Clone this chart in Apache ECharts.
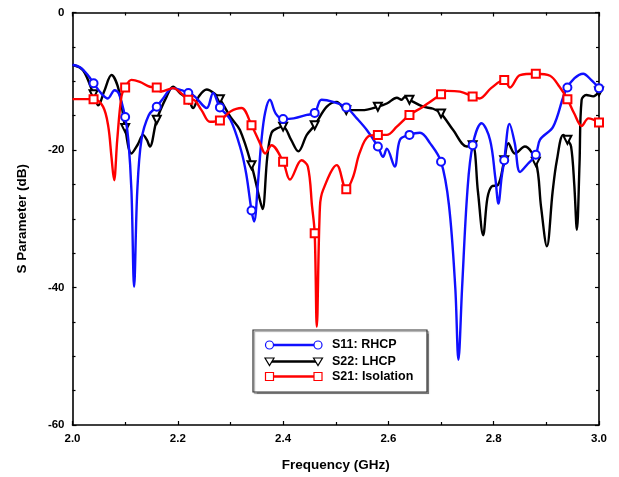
<!DOCTYPE html>
<html>
<head>
<meta charset="utf-8">
<script src="https://cdn.jsdelivr.net/npm/echarts@6/dist/echarts.min.js"></script>
<style>html,body{margin:0;padding:0;background:#fff}#c{width:619px;height:477px}</style>
</head>
<body>
<div id="c"></div>
<script>
// ---- data ----
const markerFreq = [2.04,2.10,2.16,2.22,2.28,2.34,2.40,2.46,2.52,2.58,2.64,2.70,2.76,2.82,2.88,2.94,3.00];

const s11Freq = [2.000,2.015,2.030,2.040,2.055,2.067,2.080,2.088,2.100,2.106,2.112,2.117,2.123,2.131,2.145,2.160,2.172,2.190,2.207,2.220,2.232,2.255,2.267,2.280,2.300,2.320,2.330,2.340,2.345,2.352,2.359,2.366,2.375,2.386,2.400,2.420,2.445,2.460,2.473,2.495,2.520,2.540,2.559,2.580,2.590,2.597,2.612,2.622,2.640,2.660,2.679,2.700,2.715,2.727,2.733,2.740,2.750,2.760,2.777,2.793,2.803,2.809,2.815,2.820,2.830,2.840,2.850,2.865,2.880,2.888,2.913,2.940,2.970,2.985,3.000];
const s11dB   = [-7.6,-8.0,-9.2,-10.3,-11.8,-12.5,-11.3,-11.8,-15.2,-18.5,-26,-39.9,-26,-18.5,-14.9,-13.7,-12.5,-11.0,-11.3,-11.7,-12.2,-13.9,-11.7,-13.8,-15.6,-20,-23.5,-28.8,-30.4,-25,-18.5,-14.5,-12.7,-14.7,-15.5,-15.4,-14.9,-14.6,-12.7,-13.0,-13.8,-15.4,-17.1,-19.5,-21.0,-19.8,-22.4,-18.5,-17.8,-17.5,-19.0,-21.7,-28,-40,-50.5,-40,-26,-19.3,-16.1,-18.5,-24,-27.8,-24,-21.5,-16.2,-19,-23.2,-22,-20.7,-18.5,-16.6,-10.9,-8.9,-9.8,-11.0];

const s22Freq = [2.000,2.020,2.040,2.049,2.060,2.074,2.088,2.100,2.112,2.124,2.134,2.141,2.147,2.160,2.179,2.191,2.205,2.220,2.229,2.240,2.255,2.270,2.280,2.300,2.318,2.340,2.356,2.361,2.370,2.378,2.390,2.400,2.415,2.429,2.445,2.460,2.483,2.502,2.520,2.550,2.580,2.598,2.616,2.625,2.631,2.640,2.666,2.685,2.700,2.723,2.749,2.760,2.770,2.780,2.788,2.796,2.808,2.820,2.828,2.840,2.859,2.880,2.890,2.901,2.912,2.920,2.932,2.940,2.947,2.953,2.958,2.963,2.967,2.976,2.989,3.000];
const s22dB   = [-7.6,-8.4,-11.9,-13.5,-11.5,-9.1,-11.3,-16.8,-20.5,-19.2,-17.8,-18.5,-19.5,-15.6,-12.2,-10.8,-11.8,-12.6,-13.9,-12.2,-11.2,-11.8,-12.6,-15.2,-17.1,-22.2,-27.3,-28.6,-21,-17.5,-16.8,-16.6,-18.5,-20.2,-17.8,-16.4,-13.7,-13.0,-14.2,-14.2,-13.7,-13.2,-12.4,-12.7,-12.3,-12.7,-13.7,-14.0,-14.7,-17.1,-19.5,-19.3,-26,-32.4,-27,-25.3,-25.1,-21.5,-19.0,-20.5,-19.5,-21.7,-28.3,-34.0,-26,-21.5,-17.8,-18.5,-19.5,-25,-31.6,-22,-12.7,-12.0,-12.2,-11.5];

const s21Freq = [2.000,2.020,2.040,2.058,2.068,2.074,2.079,2.085,2.093,2.100,2.112,2.128,2.147,2.160,2.168,2.191,2.210,2.220,2.229,2.245,2.261,2.280,2.300,2.321,2.340,2.356,2.366,2.378,2.400,2.413,2.435,2.447,2.455,2.460,2.464,2.470,2.476,2.502,2.520,2.533,2.545,2.562,2.580,2.597,2.616,2.640,2.666,2.700,2.711,2.736,2.760,2.773,2.795,2.820,2.831,2.850,2.880,2.907,2.925,2.940,2.953,2.967,2.980,3.000];
const s21dB   = [-12.6,-12.6,-12.6,-13.7,-16.6,-21,-24.4,-18.5,-12.2,-10.9,-9.8,-10.1,-10.8,-10.9,-11.5,-11.0,-12.0,-12.7,-12.7,-14.2,-15.9,-15.7,-14.4,-13.9,-16.4,-19.0,-20.5,-19.3,-21.7,-24.3,-21.5,-22.4,-28.2,-32.1,-45.7,-28.2,-25.8,-22.2,-25.7,-23.9,-20.5,-18.0,-17.8,-17.8,-16.6,-14.9,-13.7,-11.9,-11.4,-11.5,-12.2,-12.5,-11.0,-9.8,-10.9,-9.1,-8.9,-9.2,-10.8,-12.6,-14.7,-16.5,-15.4,-16.0];

const xTicks = [2.0,2.2,2.4,2.6,2.8,3.0];
const yTicks = [0,-20,-40,-60];

const seriesNames = ['S11: RHCP','S22: LHCP','S21: Isolation'];
const seriesColors = ['#1010ff','#000000','#ff0000'];

// ---- build ----
function isMarker(f){ return markerFreq.some(m => Math.abs(m - f) < 1e-6); }
function build(fs, ds){
  return fs.map((f,i) => isMarker(f) ? {value:[f, ds[i]]} : {value:[f, ds[i]], symbol:'none'});
}
const FONT = 'Liberation Sans, Arial, sans-serif';

const chart = echarts.init(document.getElementById('c'), null, {renderer:'canvas'});

const axisCommon = {
  axisLine:{show:true, onZero:false, lineStyle:{color:'#000', width:1.6}},
  axisTick:{show:true, inside:true, length:4, lineStyle:{color:'#000', width:1.2}},
  minorTick:{show:true, length:3, lineStyle:{color:'#000', width:1.2}},
  splitLine:{show:false}
};

const option = {
  animation:false,
  backgroundColor:'#fff',
  grid:{left:72.5, right:20, top:12.5, bottom:52, containLabel:false},
  xAxis:[
    Object.assign({}, axisCommon, {
      type:'value', min:xTicks[0], max:xTicks[xTicks.length-1], interval:0.2,
      minorTick:Object.assign({}, axisCommon.minorTick, {splitNumber:2}),
      axisLabel:{color:'#000', fontFamily:FONT, fontWeight:'bold', fontSize:11.5, margin:8,
        formatter:v => v.toFixed(1)},
      name:'Frequency (GHz)', nameLocation:'middle', nameGap:33,
      nameTextStyle:{color:'#000', fontFamily:FONT, fontWeight:'bold', fontSize:13.5}
    }),
    Object.assign({}, axisCommon, {
      type:'value', position:'top', min:xTicks[0], max:xTicks[xTicks.length-1], interval:0.2,
      minorTick:Object.assign({}, axisCommon.minorTick, {splitNumber:2}),
      axisLabel:{show:false}
    })
  ],
  yAxis:[
    Object.assign({}, axisCommon, {
      type:'value', min:-60, max:0, interval:20,
      minorTick:Object.assign({}, axisCommon.minorTick, {splitNumber:4}),
      axisLabel:{color:'#000', fontFamily:FONT, fontWeight:'bold', fontSize:11.5, margin:8},
      name:'S Parameter (dB)', nameLocation:'middle', nameGap:43,
      nameTextStyle:{color:'#000', fontFamily:FONT, fontWeight:'bold', fontSize:13.5}
    }),
    Object.assign({}, axisCommon, {
      type:'value', position:'right', min:-60, max:0, interval:20,
      minorTick:Object.assign({}, axisCommon.minorTick, {splitNumber:4}),
      axisLabel:{show:false}
    })
  ],
  series:[
    {name:seriesNames[1], type:'line', data:build(s22Freq, s22dB), smooth:0.35,
     symbol:'emptyTriangle', symbolRotate:180, symbolSize:8, showSymbol:true,
     lineStyle:{color:seriesColors[1], width:2.4}, itemStyle:{color:seriesColors[1], borderWidth:1.1}, z:2},
    {name:seriesNames[0], type:'line', data:build(s11Freq, s11dB), smooth:0.35,
     symbol:'emptyCircle', symbolSize:8, showSymbol:true,
     lineStyle:{color:seriesColors[0], width:2.4}, itemStyle:{color:seriesColors[0], borderWidth:1.1}, z:3},
    {name:seriesNames[2], type:'line', data:build(s21Freq, s21dB), smooth:0.35,
     symbol:'emptyRect', symbolSize:8, showSymbol:true,
     lineStyle:{color:seriesColors[2], width:2.4}, itemStyle:{color:seriesColors[2], borderWidth:1.1}, z:4}
  ],
  graphic:[]
};

// legend drawn as graphic (line with end markers)
const lg = {x:253, y:330, w:174, h:62};
const g = [{type:'rect', shape:{x:lg.x, y:lg.y, width:lg.w, height:lg.h},
  style:{fill:'#fff', stroke:'#333', lineWidth:1.2, shadowColor:'rgba(0,0,0,0.35)', shadowOffsetX:1.5, shadowOffsetY:1.5, shadowBlur:1}, z:100}];
const rows = [lg.y+15, lg.y+31.5, lg.y+46.5];
const x1 = 269.5, x2 = 318;
[0,1,2].forEach((si, r) => {
  const y = rows[r], col = seriesColors[si];
  g.push({type:'line', shape:{x1:x1, y1:y, x2:x2, y2:y}, style:{stroke:col, lineWidth:2.4}, z:101});
  [x1,x2].forEach(px => {
    if (si === 0) g.push({type:'circle', shape:{cx:px, cy:y, r:4}, style:{fill:'#fff', stroke:col, lineWidth:1.2}, z:102});
    else if (si === 1) g.push({type:'polygon', shape:{points:[[px-4.5,y-3.5],[px+4.5,y-3.5],[px,y+4]]}, style:{fill:'#fff', stroke:col, lineWidth:1.2}, z:102});
    else g.push({type:'rect', shape:{x:px-4, y:y-4, width:8, height:8}, style:{fill:'#fff', stroke:col, lineWidth:1.2}, z:102});
  });
  g.push({type:'text', x:332, y:y, style:{text:seriesNames[si], fill:'#000', font:'bold 12.5px ' + FONT, textVerticalAlign:'middle', verticalAlign:'middle'}, z:102});
});
option.graphic = g;

chart.setOption(option);
</script>
</body>
</html>
